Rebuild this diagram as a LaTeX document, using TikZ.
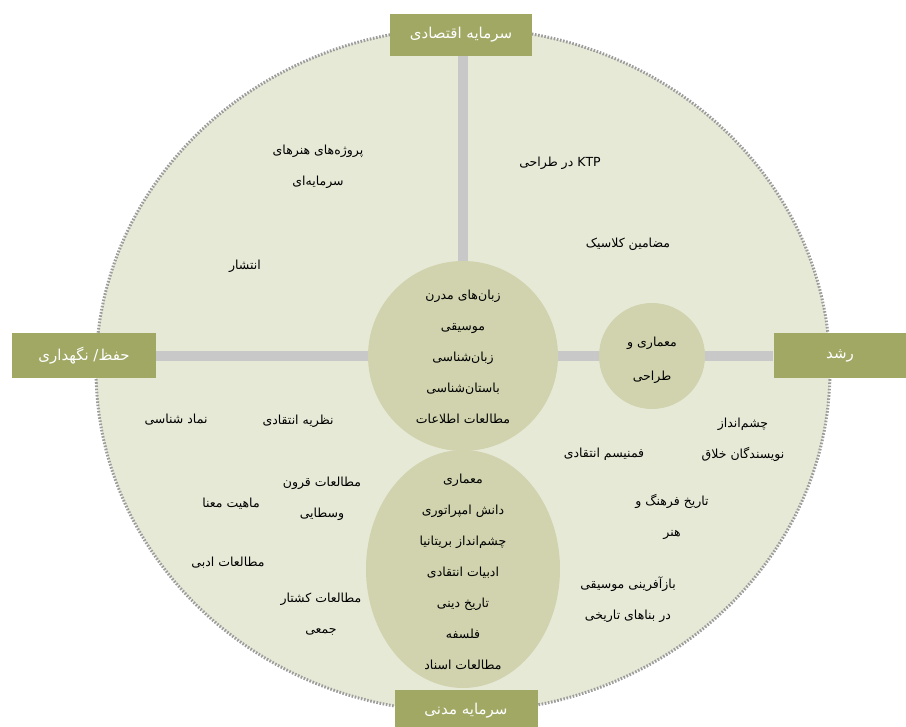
\documentclass[tikz,border=0pt]{standalone}
\usepackage{fontspec}
\usetikzlibrary{shapes.geometric}
\TeXXeTstate=1
\newfontfamily\arabicfont[Script=Arabic]{DejaVu Sans}
\newcommand{\RL}[1]{\beginR #1\endR}
\definecolor{fieldfill}{HTML}{E7E9D7}
\definecolor{discfill}{HTML}{D0D3AD}
\definecolor{boxfill}{HTML}{A0A864}
\definecolor{axisgray}{HTML}{C8C8C8}
\definecolor{dotgray}{HTML}{9C9C9C}
\pgfdeclarelayer{bg}
\pgfdeclarelayer{axis}
\pgfsetlayers{bg,axis,main}
\tikzset{
  lbl/.style={align=center, text=black, inner sep=0pt,
    font={\arabicfont\fontsize{12.5}{31}\selectfont}},
  disc/.style={circle, fill=discfill, draw=none},
  quadbox/.style={rectangle, fill=boxfill, draw=none, text=white,
    font={\arabicfont\fontsize{15}{17}\selectfont}},
  axisline/.style={draw=axisgray, line width=10pt},
}
\begin{document}
\begin{tikzpicture}[x=1pt,y=-1pt]
\useasboundingbox (0,0) rectangle (906,727);
\begin{pgfonlayer}{bg}
\node[ellipse, fill=fieldfill, draw=dotgray, line width=3pt,
  dash pattern=on 1.6pt off 1.6pt, minimum width=734pt, minimum height=684pt,
  inner sep=0pt] (field) at (463,370) {};
\end{pgfonlayer}
% quadrant boxes
\node[quadbox, minimum width=142pt, minimum height=42pt] (top) at (461,35) {\RL{سرمایه اقتصادی}};
\node[quadbox, minimum width=144pt, minimum height=45pt] (left) at (84,356) {\RL{حفظ/ نگهداری}};
\node[quadbox, minimum width=133pt, minimum height=45pt] (right) at (840,356) {\RL{رشد}};
\node[quadbox, minimum width=143pt, minimum height=42pt] (bottom) at (466,711) {\RL{سرمایه مدنی}};
% discs
\node[disc, minimum size=190pt] (core) at (463,356) {};
\node[disc, minimum size=106pt] (small) at (652,356) {};
\node[ellipse, fill=discfill, draw=none, minimum width=194pt, minimum height=238pt] (lower) at (463,569) {};
% axes
\begin{pgfonlayer}{axis}
\draw[axisline] (core.north |- top.south) -- (core.north);
\draw[axisline] (left.east) -- (core.west);
\draw[axisline] (core.east) -- (right.west);
\end{pgfonlayer}
% disc texts
\node[lbl] (coretext) at (463,357) {\RL{زبان‌های مدرن}\\\RL{موسیقی}\\\RL{زبان‌شناسی}\\\RL{باستان‌شناسی}\\\RL{مطالعات اطلاعات}};
\node[lbl, font={\arabicfont\fontsize{12.5}{34}\selectfont}] (smalltext) at (652,360) {\RL{معماری و}\\\RL{طراحی}};
\node[lbl] (lowertext) at (463,572) {\RL{معماری}\\\RL{دانش امپراتوری}\\\RL{چشم‌انداز بریتانیا}\\\RL{ادبیات انتقادی}\\\RL{تاریخ دینی}\\\RL{فلسفه}\\\RL{مطالعات اسناد}};
% free labels
\node[lbl] (t1) at (318,167) {\RL{پروژه‌های هنرهای}\\\RL{سرمایه‌ای}};
\node[lbl] (t2) at (560,163) {\RL{\beginL KTP\endL{} در طراحی}};
\node[lbl] (t3) at (628,244) {\RL{مضامین کلاسیک}};
\node[lbl] (t4) at (245,266) {\RL{انتشار}};
\node[lbl] (t5) at (176,420) {\RL{نماد شناسی}};
\node[lbl] (t6) at (298,421) {\RL{نظریه انتقادی}};
\node[lbl] (t7) at (604,454) {\RL{فمنیسم انتقادی}};
\node[lbl] (t8) at (743,440) {\RL{چشم‌انداز}\\\RL{نویسندگان خلاق}};
\node[lbl] (t9) at (672,517) {\RL{تاریخ فرهنگ و}\\\RL{هنر}};
\node[lbl] (t10) at (231,504) {\RL{ماهیت معنا}};
\node[lbl] (t11) at (322,499) {\RL{مطالعات قرون}\\\RL{وسطایی}};
\node[lbl] (t12) at (228,563) {\RL{مطالعات ادبی}};
\node[lbl] (t13) at (321,614) {\RL{مطالعات کشتار}\\\RL{جمعی}};
\node[lbl] (t14) at (628,600) {\RL{بازآفرینی موسیقی}\\\RL{در بناهای تاریخی}};
\end{tikzpicture}
\end{document}
